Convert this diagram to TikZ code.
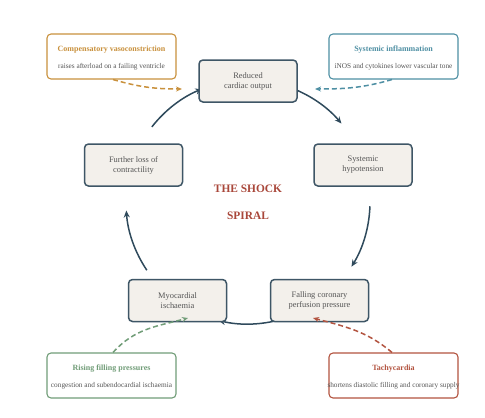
\documentclass[tikz,border=0pt]{standalone}
\usepackage{fontspec}
\setmainfont{Liberation Serif}
\usetikzlibrary{arrows.meta}
\definecolor{slateline}{HTML}{3E5666}
\definecolor{slatearrow}{HTML}{2F4A5C}
\definecolor{boxfill}{HTML}{F3F0EB}
\definecolor{txtgray}{HTML}{555555}
\definecolor{titlered}{HTML}{A9473A}
\definecolor{corange}{HTML}{C9913D}
\definecolor{cteal}{HTML}{4E8FA3}
\definecolor{cgreen}{HTML}{719D78}
\definecolor{cred}{HTML}{B35440}
\tikzset{
  mainbox/.style={draw=slateline, fill=boxfill, line width=1.5pt, rounded corners=4pt,
    minimum width=98pt, minimum height=42pt, inner sep=0pt, align=center,
    text=txtgray, font=\fontsize{8.4}{10}\selectfont},
  sidebox/.style={draw=#1, fill=white, line width=1.1pt, rounded corners=4pt,
    minimum width=129pt, minimum height=45pt, inner sep=0pt},
  sidetitle/.style={text=#1, font=\fontsize{8}{9.6}\selectfont\bfseries, inner sep=0pt},
  sidesub/.style={text=txtgray, font=\fontsize{7.3}{9}\selectfont, inner sep=0pt},
  cyc/.style={draw=slatearrow, line width=1.5pt, -{Stealth[length=7pt,width=6pt]}},
  infl/.style={draw=#1, line width=1.5pt, dash pattern=on 5pt off 3pt,
    -{Stealth[length=6pt,width=5pt]}},
  bigtitle/.style={text=titlered, font=\fontsize{11.4}{13}\selectfont\bfseries, inner sep=0pt}
}
\begin{document}
\begin{tikzpicture}[x=1pt,y=1pt]
\useasboundingbox (0,0) rectangle (485,-418);
\fill[white] (0,0) rectangle (485,-418);
\coordinate (C) at (248,-202);
% cycle arcs (drawn below the boxes)
\foreach \t in {90,18,-54,-126,-198}{
  \pgfmathsetmacro{\sa}{\t-20}
  \pgfmathsetmacro{\ea}{\t-50}
  \draw[cyc] ([shift={(\sa:122pt)}]C) arc[start angle=\sa, end angle=\ea, radius=122pt];
}
% main boxes
\node[mainbox] (red) at (248,-81) {Reduced\\cardiac output};
\node[mainbox] (hyp) at (363,-165) {Systemic\\hypotension};
\node[mainbox] (cor) at (319.5,-300.5) {Falling coronary\\perfusion pressure};
\node[mainbox] (isch) at (177.5,-300.5) {Myocardial\\ischaemia};
\node[mainbox] (loss) at (133.5,-165) {Further loss of\\contractility};
% title
\node[bigtitle] (t1) at (248,-189) {THE SHOCK};
\node[bigtitle] (t2) at (248,-216) {SPIRAL};
% side boxes
\node[sidebox=corange] (comp) at (111.5,-56.5) {};
\node[sidetitle=corange] (compt) at ([yshift=7pt]comp.center) {Compensatory vasoconstriction};
\node[sidesub] (comps) at ([yshift=-10pt]comp.center) {raises afterload on a failing ventricle};
\node[sidebox=cteal] (infl) at (393.5,-56.5) {};
\node[sidetitle=cteal] (inflt) at ([yshift=7pt]infl.center) {Systemic inflammation};
\node[sidesub] (infls) at ([yshift=-10pt]infl.center) {iNOS and cytokines lower vascular tone};
\node[sidebox=cgreen] (fill) at (111.5,-375.5) {};
\node[sidetitle=cgreen] (fillt) at ([yshift=7pt]fill.center) {Rising filling pressures};
\node[sidesub] (fills) at ([yshift=-10pt]fill.center) {congestion and subendocardial ischaemia};
\node[sidebox=cred] (tach) at (393.5,-375.5) {};
\node[sidetitle=cred] (tacht) at ([yshift=7pt]tach.center) {Tachycardia};
\node[sidesub] (tachs) at ([yshift=-10pt]tach.center) {shortens diastolic filling and coronary supply};
% dashed influences
\coordinate (ce) at (182,-89);
\coordinate (te) at (315,-89);
\coordinate (ge) at (188,-318);
\coordinate (re) at (313,-318);
\draw[infl=corange] ([xshift=1.5pt]comp.south) to[out=-16,in=180] (ce);
\draw[infl=cteal] ([xshift=-1.5pt]infl.south) to[out=196,in=0] (te);
\draw[infl=cgreen] ([xshift=1.5pt]fill.north) to[out=48,in=195] (ge);
\draw[infl=cred] ([xshift=-1.5pt]tach.north) to[out=140,in=-15] (re);
\end{tikzpicture}
\end{document}
